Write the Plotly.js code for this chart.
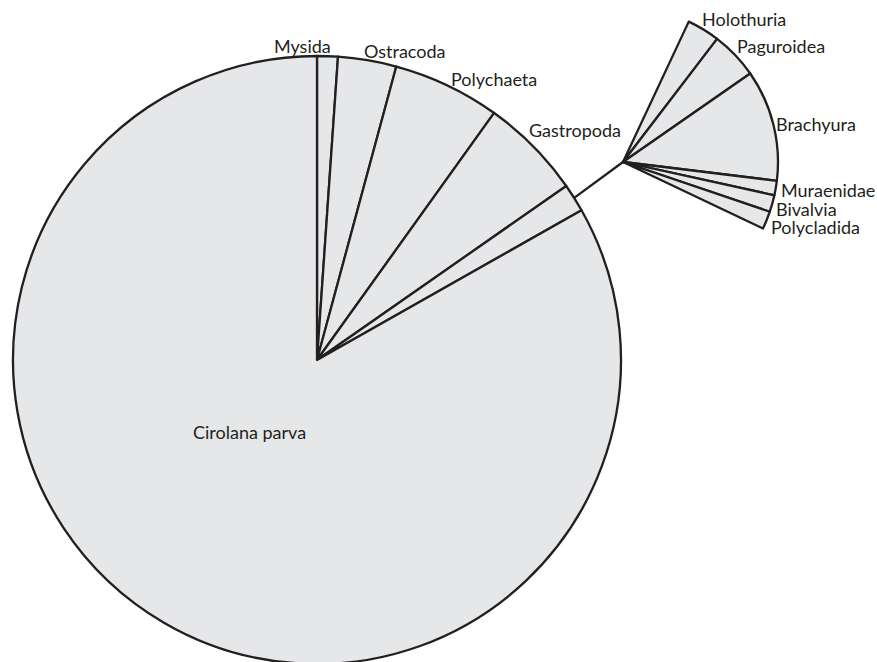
<!DOCTYPE html>
<html><head><meta charset="utf-8">
<script src="https://cdn.plot.ly/plotly-3.0.1.min.js"></script>
<style>html,body{margin:0;padding:0;overflow:hidden;background:#fff}#chart{width:877px;height:666px}</style>
</head><body><div id="chart"></div>
<script>
// ---- data (percent) ----
const mainLabels = ['Mysida', 'Ostracoda', 'Polychaeta', 'Gastropoda', 'Other', 'Cirolana parva'];
const mainValues = [1.1, 3.1, 5.7, 5.4, 1.5, 83.2];
const subLabels = ['Holothuria', 'Paguroidea', 'Brachyura', 'Muraenidae', 'Bivalvia', 'Polycladida'];
const subValues = [13.6, 19.7, 46.3, 6.0, 7.0, 7.4];

// ---- geometry / style ----
const W = 877, H = 666;
const mainC = [317, 360], mainR = 304;
const subC = [623, 162], subR = 155;
const subStart = 25.1, subSpan = 90.3;
const FILL = '#e6e7e8', LINE = '#231f20', LW = 2.3;
const FONT = {family: 'Lato, "Open Sans", sans-serif', size: 18, color: '#231f20'};

// label nudges: [dx, dy, xanchor, base]
const mainLabelPos = [[5.5, -9.7, 'right', 'arc'], [-5.4, -9.2, 'left', 'arc'], [1.7, -6.8, 'left', 'arc'],
  [-6.3, -15.9, 'left', 'arc'], null, [-67.5, 72, 'center', 'center']];
const subLabelPos = [[-3, -10.5, 'left', 'arc'], [0.3, -8.9, 'left', 'arc'], [0.3, -0.2, 'left', 'arc'],
  [3.7, 1.9, 'left', 'arc'], [1.7, 5.9, 'left', 'arc'], [2.3, 6.3, 'left', 'arc']];

const subSum = subValues.reduce((a, b) => a + b, 0);
const blank = subSum * (360 / subSpan - 1);

function dom(c, r) {
  return {x: [(c[0] - r) / W, (c[0] + r) / W], y: [1 - (c[1] + r) / H, 1 - (c[1] - r) / H]};
}
function midAngles(vals, start) {
  const tot = vals.reduce((a, b) => a + b, 0);
  let a = start; const out = [];
  vals.forEach(v => { const s = v / tot * 360; out.push(a + s / 2); a += s; });
  return out;
}
function pt(c, r, deg) {
  const t = deg * Math.PI / 180;
  return [c[0] + r * Math.sin(t), c[1] - r * Math.cos(t)];
}

const traces = [
  {
    type: 'pie', labels: mainLabels, values: mainValues, sort: false, direction: 'clockwise', rotation: 0,
    domain: dom(mainC, mainR), textinfo: 'none', hoverinfo: 'label+percent', showlegend: false,
    marker: {colors: mainLabels.map(() => FILL), line: {color: LINE, width: LW}}
  },
  {
    type: 'pie', labels: subLabels.concat(['']), values: subValues.concat([blank]), sort: false,
    direction: 'clockwise', rotation: subStart,
    domain: dom(subC, subR), textinfo: 'none', hoverinfo: 'label', showlegend: false,
    marker: {colors: subLabels.map(() => FILL).concat(['rgba(0,0,0,0)']),
      line: {color: LINE, width: subLabels.map(() => LW).concat([0])}}
  }
];

const annotations = [];
function addLabels(labels, vals, start, c, r, pos) {
  const mids = midAngles(vals, start);
  labels.forEach((lab, i) => {
    const p = pos[i]; if (!p) return;
    const base = p[3] === 'arc' ? pt(c, r, mids[i]) : c;
    annotations.push({
      text: lab, xref: 'paper', yref: 'paper', showarrow: false,
      x: (base[0] + p[0]) / W, y: 1 - (base[1] + p[1]) / H,
      xanchor: p[2], yanchor: 'middle', font: FONT
    });
  });
}
addLabels(mainLabels, mainValues, 0, mainC, mainR, mainLabelPos);
addLabels(subLabels, subValues.concat([blank]), subStart, subC, subR, subLabelPos);

const otherIdx = mainLabels.indexOf('Other');
const p0 = pt(mainC, mainR, midAngles(mainValues, 0)[otherIdx]);
const shapes = [{
  type: 'line', xref: 'paper', yref: 'paper',
  x0: p0[0] / W, y0: 1 - p0[1] / H, x1: subC[0] / W, y1: 1 - subC[1] / H,
  line: {color: LINE, width: LW}
}];

Plotly.newPlot('chart', traces, {
  width: W, height: H, margin: {l: 0, r: 0, t: 0, b: 0},
  paper_bgcolor: '#fff', plot_bgcolor: '#fff', showlegend: false,
  annotations: annotations, shapes: shapes, font: FONT
}, {displayModeBar: false, staticPlot: true});
</script>
</body></html>
